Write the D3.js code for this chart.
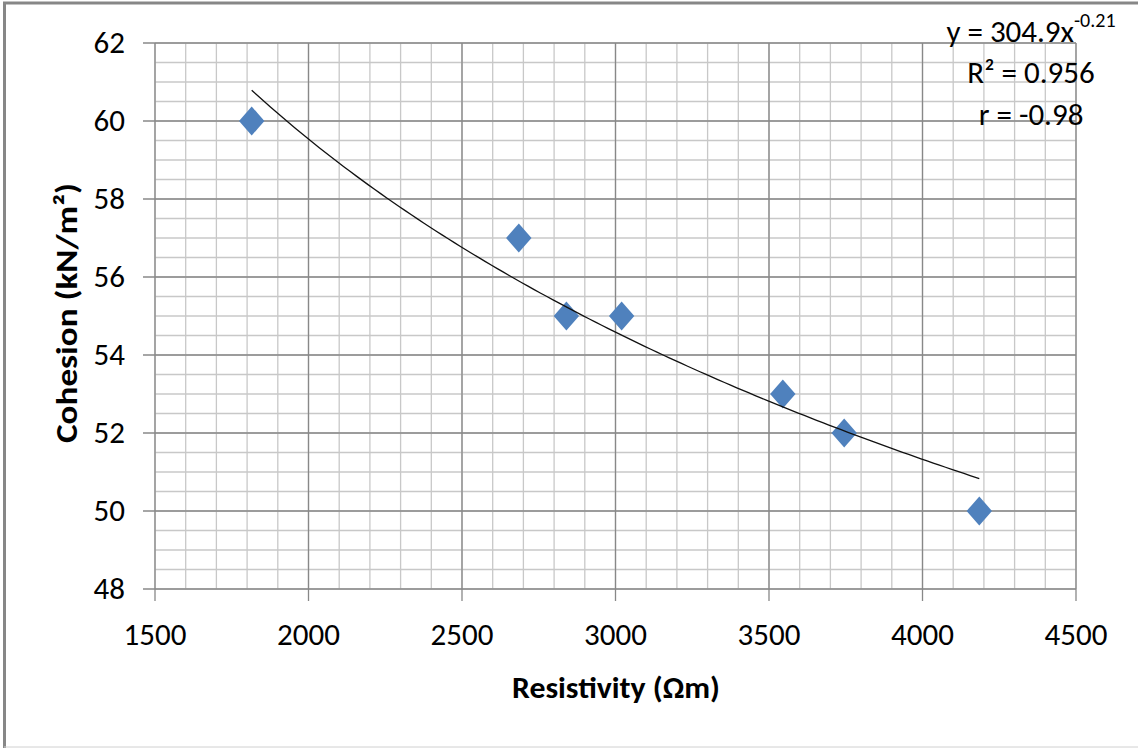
<!DOCTYPE html>
<html lang="en">
<head>
  <meta charset="UTF-8">
  <title>Cohesion vs Resistivity</title>
  <script src="https://cdn.jsdelivr.net/npm/d3@7"></script>
</head>
<style>
    body { margin: 0; background: #fff; }
    text {
      fill: #000;
      font-family: Calibri, Carlito, "Liberation Sans", Arial, sans-serif;
    }
    .minor line { stroke: #c8c8c8; stroke-width: 1.3px; }
    .major line { stroke: #888; stroke-width: 1.3px; }
</style>
<body>
<svg width="1138" height="748"></svg>

<script>
    // data
    var resistivity = [1815, 2685, 2840, 3020, 3545, 3745, 4185];
    var cohesion = [60, 57, 55, 55, 53, 52, 50];
    var xTicks = [1500, 2000, 2500, 3000, 3500, 4000, 4500];
    var yTicks = [48, 50, 52, 54, 56, 58, 60, 62];
    var eqnLines = ["R\u00b2 = 0.956", "r = -0.98"];

    var svg = d3.select("svg");
    // plot box (note: "top" is a reserved window prop, so use pTop etc.)
    var pLeft = 155, pRight = 1076, pTop = 43, pBottom = 589;

    var x = d3.scaleLinear().domain([1500, 4500]).range([pLeft, pRight]);
    var y = d3.scaleLinear().domain([48, 62]).range([pBottom, pTop]);

    // outer frame (only top, left and bottom visible)
    svg.append("line").attr("x1", 3).attr("x2", 1138).attr("y1", 3).attr("y2", 3)
        .attr("stroke", "#878787").attr("stroke-width", 3);
    svg.append("line").attr("x1", 4.5).attr("x2", 4.5).attr("y1", 2).attr("y2", 748)
        .attr("stroke", "#878787").attr("stroke-width", 3);
    svg.append("line").attr("x1", 4).attr("x2", 1138).attr("y1", 747).attr("y2", 747)
        .attr("stroke", "#d0d0d0").attr("stroke-width", 1);

    // minor grid
    var minor = svg.append("g").attr("class", "minor");
    minor.selectAll("line.vx").data(d3.range(1500, 4501, 100)).enter().append("line")
        .attr("x1", d => x(d)).attr("x2", d => x(d)).attr("y1", pTop).attr("y2", pBottom);
    minor.selectAll("line.hy").data(d3.range(48, 62.01, 0.5)).enter().append("line")
        .attr("x1", pLeft).attr("x2", pRight).attr("y1", d => y(d)).attr("y2", d => y(d));

    // major grid + ticks
    var major = svg.append("g").attr("class", "major");
    major.selectAll("line.vx").data(xTicks).enter().append("line")
        .attr("x1", d => x(d)).attr("x2", d => x(d)).attr("y1", pTop).attr("y2", pBottom + 12);
    major.selectAll("line.hy").data(yTicks).enter().append("line")
        .attr("x1", pLeft - 12).attr("x2", pRight).attr("y1", d => y(d)).attr("y2", d => y(d));

    // tick labels
    svg.append("g").selectAll("text").data(xTicks).enter().append("text")
        .attr("x", d => x(d)).attr("y", 645)
        .attr("text-anchor", "middle")
        .style("font-size", "31px")
        .text(d => d);
    svg.append("g").selectAll("text").data(yTicks).enter().append("text")
        .attr("x", 125).attr("y", d => y(d) + 10)
        .attr("text-anchor", "end")
        .style("font-size", "31px")
        .text(d => d);

    // axis titles
    svg.append("text")
        .attr("x", 616).attr("y", 698)
        .attr("text-anchor", "middle")
        .attr("textLength", 208).attr("lengthAdjust", "spacingAndGlyphs")
        .style("font-size", "30px").style("font-weight", "bold")
        .text("Resistivity (\u03a9m)");
    svg.append("text")
        .attr("transform", "translate(77,313) rotate(-90)")
        .attr("text-anchor", "middle")
        .attr("textLength", 260).attr("lengthAdjust", "spacingAndGlyphs")
        .style("font-size", "30px").style("font-weight", "bold")
        .text("Cohesion (kN/m\u00b2)");

    // markers
    var diamond = "M0,-14.5L12.7,0L0,14.5L-12.7,0Z";
    svg.append("g").selectAll("path").data(resistivity).enter().append("path")
        .attr("d", diamond)
        .attr("transform", (d, i) => "translate(" + x(d) + "," + y(cohesion[i]) + ")")
        .attr("fill", "#4f81bd");

    // power trendline: least squares fit in log-log space
    var lx = resistivity.map(Math.log), ly = cohesion.map(Math.log);
    var mx = d3.mean(lx), my = d3.mean(ly);
    var sxy = d3.sum(lx, (v, i) => (v - mx) * (ly[i] - my));
    var sxx = d3.sum(lx, v => (v - mx) * (v - mx));
    var b = sxy / sxx, a = Math.exp(my - b * mx);
    var xs = d3.range(d3.min(resistivity), d3.max(resistivity) + 1, 20);
    xs.push(d3.max(resistivity));
    var line = d3.line().x(d => x(d)).y(d => y(a * Math.pow(d, b)));
    svg.append("path").datum(xs)
        .attr("d", line)
        .attr("fill", "none")
        .attr("stroke", "#111")
        .attr("stroke-width", 1.3);

    // equation text
    var eq = svg.append("text").attr("x", 1031).attr("y", 41.7)
        .attr("text-anchor", "middle").style("font-size", "31px");
    eq.append("tspan").text("y = 304.9x");
    eq.append("tspan").attr("dy", -15).style("font-size", "20px").text("-0.21");
    svg.append("g").selectAll("text").data(eqnLines).enter().append("text")
        .attr("x", 1031).attr("y", (d, i) => 83.3 + i * 41.7)
        .attr("text-anchor", "middle")
        .style("font-size", "31px")
        .text(d => d);
</script>
</body>
</html>
